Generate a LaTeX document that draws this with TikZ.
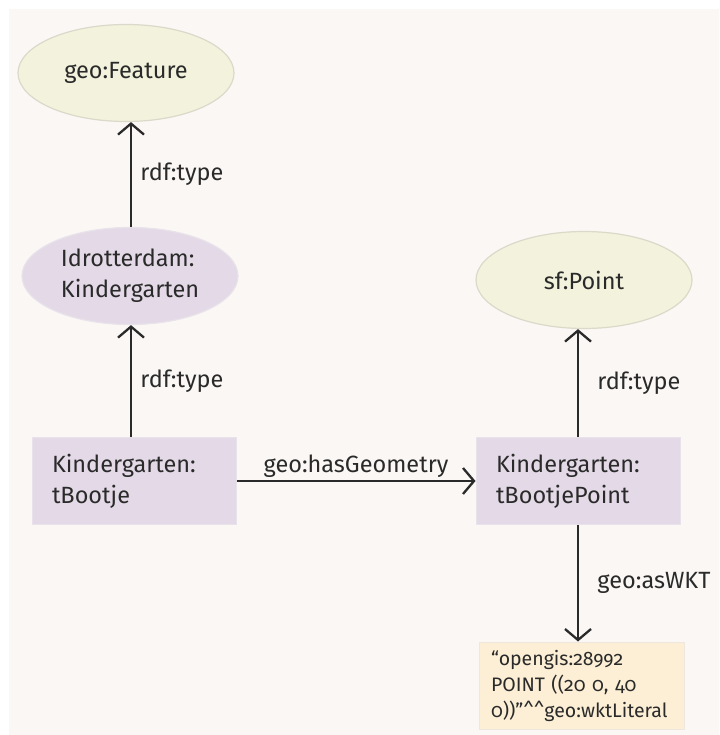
\documentclass[tikz,border=0pt]{standalone}
\usepackage{fontspec}
\setmainfont{Fira Sans}[Numbers=OldStyle]
\usetikzlibrary{shapes.geometric,arrows.meta}
\definecolor{panelbg}{HTML}{FBF7F5}
\definecolor{classfill}{HTML}{F3F2DC}
\definecolor{classedge}{HTML}{DAD9CA}
\definecolor{instfill}{HTML}{E4DAE7}
\definecolor{instedge}{HTML}{E8E2EA}
\definecolor{litfill}{HTML}{FCEFD5}
\definecolor{litedge}{HTML}{EEE7DD}
\definecolor{ink}{HTML}{2A2A2A}

\begin{document}
\begin{tikzpicture}[x=1pt,y=-1pt,
  every node/.style={font=\fontsize{23.5}{31}\selectfont,text=ink},
  classnode/.style={ellipse,draw=classedge,line width=1.2pt,fill=classfill,
    minimum width=216pt,minimum height=97pt,inner sep=1pt,align=left},
  instbox/.style={rectangle,draw=instedge,line width=1pt,fill=instfill,
    text width=164pt,inner xsep=20pt,minimum height=87pt,align=left},
  litbox/.style={rectangle,draw=litedge,line width=1pt,fill=litfill,
    text width=181pt,inner xsep=12pt,minimum height=87pt,align=left,
    font=\fontsize{19.5}{26}\selectfont},
  rel/.style={draw=ink,line width=2.3pt,
    -{Straight Barb[length=11pt,width=26pt]}}]
\useasboundingbox (0,0) rectangle (719,735);
\fill[white] (0,0) rectangle (719,735);
\fill[panelbg] (9,9) rectangle (719,735);

% classes
\node[classnode] (feature) at (126,73) {geo:Feature};
\node[classnode,fill=instfill,draw=instedge] (kgclass) at (130,276) {Idrotterdam:\\Kindergarten};
\node[classnode] (sfpoint) at (584,280) {sf:Point};

% instances
\node[instbox] (tbootje) at (134,481) {Kindergarten:\\tBootje};
\node[instbox] (tbpoint) at (578,481) {Kindergarten:\\tBootjePoint};
\node[litbox] (wkt) at (581.5,685.5) {“opengis:28992\\POINT ((20 0, 40\\0))”\textasciicircum\textasciicircum geo:wktLiteral};

% relations
\draw[rel] (kgclass.north -| 131,0) -- (feature.south -| 131,0) node[midway,right=5pt] {rdf:type};
\draw[rel] (tbootje.north -| 131,0) -- (kgclass.south -| 131,0) node[midway,right=5pt] {rdf:type};
\draw[rel] (tbootje) -- (tbpoint) node[midway,above=-1pt] {geo:hasGeometry};
\draw[rel] (tbpoint) -- (sfpoint.south -| tbpoint) node[midway,right=15pt] {rdf:type};
\draw[rel] (tbpoint) -- (wkt.north -| tbpoint) node[midway,right=15pt] {geo:asWKT};
\end{tikzpicture}
\end{document}
